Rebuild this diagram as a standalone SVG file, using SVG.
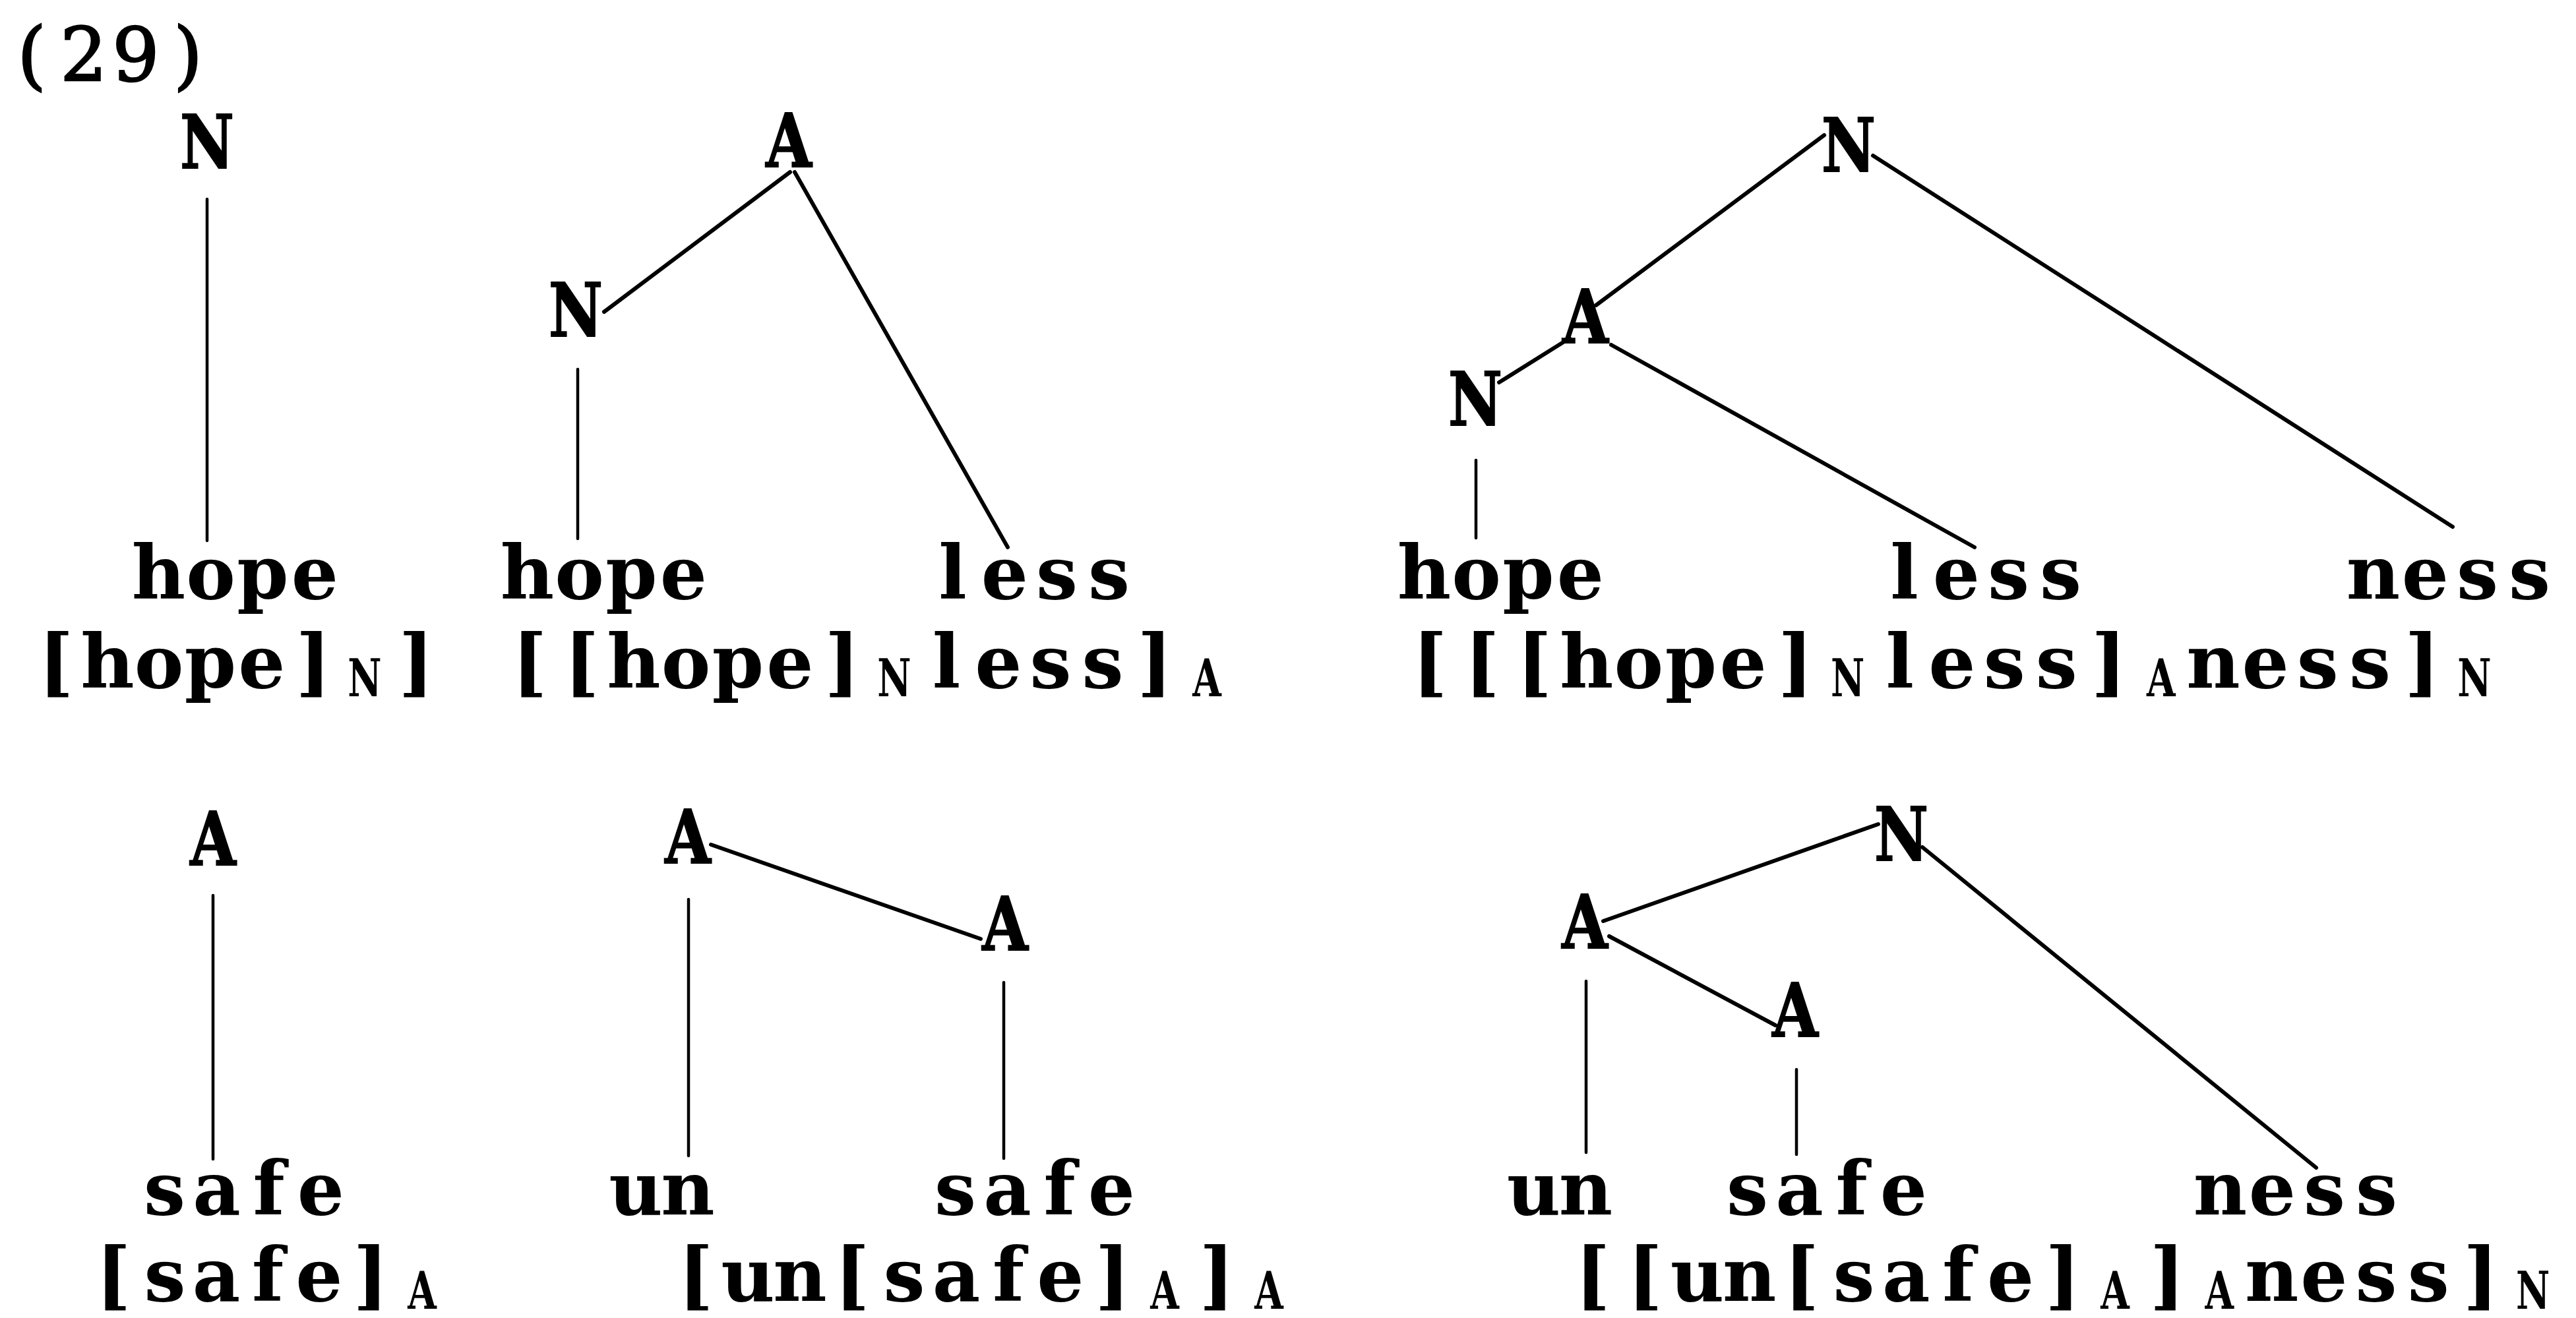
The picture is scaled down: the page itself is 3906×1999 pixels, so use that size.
<svg xmlns="http://www.w3.org/2000/svg" width="3906" height="1999" viewBox="0 0 3906 1999">
  <style>
    .tw { font-family: "DejaVu Serif", "Liberation Serif", serif; font-weight: bold; font-size: 112px; text-anchor: middle; fill: #000; }
    .num { font-family: "DejaVu Serif", "Liberation Serif", serif; font-size: 112px; text-anchor: middle; fill: #000; stroke: #000; stroke-width: 2.5px; }
    .cat { font-family: "DejaVu Serif", "Liberation Serif", serif; font-weight: bold; font-size: 112px; text-anchor: middle; fill: #000; stroke: #000; stroke-width: 2px; }
    .sub { font-family: "DejaVu Serif", "Liberation Serif", serif; font-weight: bold; font-size: 78px; text-anchor: middle; fill: #000; }
    .edge { stroke: #000; stroke-width: 6; stroke-linecap: round; fill: none; }
    .stem { stroke: #000; stroke-width: 4.5; stroke-linecap: round; fill: none; }
  </style>
  <rect width="3906" height="1999" fill="#fff"/>

  <text class="num" x="48 127 206 285" y="122">(29)</text>

  <!-- tree branches -->
  <g id="connectors">
    <!-- hope -->
    <line class="stem" x1="314" y1="302" x2="314" y2="820"/>
    <!-- hopeless -->
    <line class="edge" x1="1198" y1="261" x2="916" y2="473"/>
    <line class="edge" x1="1205" y1="261" x2="1528" y2="830"/>
    <line class="stem" x1="876" y1="560" x2="876" y2="817"/>
    <!-- hopelessness -->
    <line class="edge" x1="2766" y1="205" x2="2420" y2="463"/>
    <line class="edge" x1="2380" y1="513" x2="2273" y2="580"/>
    <line class="edge" x1="2443" y1="523" x2="2994" y2="830"/>
    <line class="edge" x1="2840" y1="236" x2="3719" y2="799"/>
    <line class="stem" x1="2238" y1="698" x2="2238" y2="816"/>
    <!-- safe -->
    <line class="stem" x1="323" y1="1358" x2="323" y2="1758"/>
    <!-- unsafe -->
    <line class="edge" x1="1078" y1="1281" x2="1487" y2="1424"/>
    <line class="stem" x1="1044" y1="1364" x2="1044" y2="1753"/>
    <line class="stem" x1="1522" y1="1490" x2="1522" y2="1757"/>
    <!-- unsafeness -->
    <line class="edge" x1="2431" y1="1397" x2="2848" y2="1250"/>
    <line class="edge" x1="2440" y1="1420" x2="2692" y2="1555"/>
    <line class="edge" x1="2915" y1="1285" x2="3512" y2="1771"/>
    <line class="stem" x1="2405" y1="1488" x2="2405" y2="1748"/>
    <line class="stem" x1="2724" y1="1622" x2="2724" y2="1751"/>
  </g>

  <!-- hope -->
  <g id="t1-N"><text class="cat" transform="translate(314 255) scale(0.8 1)">N</text></g>
  <g id="t1-hope"><text class="tw" x="240.5 319.5 398.5 477.5" y="908">hope</text></g>
  <g id="t1-bracket">
    <text class="tw" x="85 163 241 319 397 475" y="1043">[hope]</text>
    <text class="sub" transform="translate(553 1056) scale(0.72 1)">N</text>
    <text class="tw" x="631" y="1043">]</text>
  </g>

  <!-- hopeless -->
  <g id="t2-A"><text class="cat" transform="translate(1196 253) scale(0.8 1)">A</text></g>
  <g id="t2-N"><text class="cat" transform="translate(873 510) scale(0.8 1)">N</text></g>
  <g id="t2-hope"><text class="tw" x="799.5 878.5 957.5 1036.5" y="908">hope</text></g>
  <g id="t2-less"><text class="tw" x="1444.5 1523.5 1602.5 1681.5" y="908">less</text></g>
  <g id="t2-bracket">
    <text class="tw" x="803 882 961 1040 1119 1198 1277" y="1043">[[hope]</text>
    <text class="sub" transform="translate(1356 1056) scale(0.72 1)">N</text>
    <text class="tw" x="1435 1514 1593 1672 1751" y="1043">less]</text>
    <text class="sub" transform="translate(1830 1056) scale(0.72 1)">A</text>
  </g>

  <!-- hopelessness -->
  <g id="t3-N"><text class="cat" transform="translate(2803 260) scale(0.8 1)">N</text></g>
  <g id="t3-A"><text class="cat" transform="translate(2404 520) scale(0.8 1)">A</text></g>
  <g id="t3-N2"><text class="cat" transform="translate(2237 645) scale(0.8 1)">N</text></g>
  <g id="t3-hope"><text class="tw" x="2159.5 2238.5 2317.5 2396.5" y="908">hope</text></g>
  <g id="t3-less"><text class="tw" x="2887.5 2966.5 3045.5 3124.5" y="908">less</text></g>
  <g id="t3-ness"><text class="tw" x="3598.5 3677.5 3756.5 3835.5" y="908">ness</text></g>
  <g id="t3-bracket">
    <text class="tw" x="2168 2247.2 2326.4 2405.6 2484.8 2564 2643.2 2722.4" y="1043">[[[hope]</text>
    <text class="sub" transform="translate(2801.6 1056) scale(0.72 1)">N</text>
    <text class="tw" x="2880.8 2960 3039.2 3118.4 3197.6" y="1043">less]</text>
    <text class="sub" transform="translate(3276.8 1056) scale(0.72 1)">A</text>
    <text class="tw" x="3356 3435.2 3514.4 3593.6 3672.8" y="1043">ness]</text>
    <text class="sub" transform="translate(3752 1056) scale(0.72 1)">N</text>
  </g>

  <!-- safe -->
  <g id="t4-A"><text class="cat" transform="translate(323 1312) scale(0.8 1)">A</text></g>
  <g id="t4-safe"><text class="tw" x="249.5 328.5 407.5 486.5" y="1842">safe</text></g>
  <g id="t4-bracket">
    <text class="tw" x="172 250 328 406 484 562" y="1973">[safe]</text>
    <text class="sub" transform="translate(640 1985) scale(0.72 1)">A</text>
  </g>

  <!-- unsafe -->
  <g id="t5-A"><text class="cat" transform="translate(1043 1309) scale(0.8 1)">A</text></g>
  <g id="t5-A2"><text class="cat" transform="translate(1524 1441) scale(0.8 1)">A</text></g>
  <g id="t5-un"><text class="tw" x="964 1043" y="1842">un</text></g>
  <g id="t5-safe"><text class="tw" x="1448.5 1527.5 1606.5 1685.5" y="1842">safe</text></g>
  <g id="t5-bracket">
    <text class="tw" x="1055 1134 1213 1292 1371 1450 1529 1608 1687" y="1973">[un[safe]</text>
    <text class="sub" transform="translate(1766 1985) scale(0.72 1)">A</text>
    <text class="tw" x="1845" y="1973">]</text>
    <text class="sub" transform="translate(1924 1985) scale(0.72 1)">A</text>
  </g>

  <!-- unsafeness -->
  <g id="t6-N"><text class="cat" transform="translate(2883 1305) scale(0.8 1)">N</text></g>
  <g id="t6-A"><text class="cat" transform="translate(2403 1438) scale(0.8 1)">A</text></g>
  <g id="t6-A2"><text class="cat" transform="translate(2722 1572) scale(0.8 1)">A</text></g>
  <g id="t6-un"><text class="tw" x="2325.5 2404.5" y="1842">un</text></g>
  <g id="t6-safe"><text class="tw" x="2649.5 2728.5 2807.5 2886.5" y="1842">safe</text></g>
  <g id="t6-ness"><text class="tw" x="3366.5 3445.5 3524.5 3603.5" y="1842">ness</text></g>
  <g id="t6-bracket">
    <text class="tw" x="2415 2494.2 2573.4 2652.6 2731.8 2811 2890.2 2969.4 3048.6 3127.8" y="1973">[[un[safe]</text>
    <text class="sub" transform="translate(3207 1985) scale(0.72 1)">A</text>
    <text class="tw" x="3286.2" y="1973">]</text>
    <text class="sub" transform="translate(3365.4 1985) scale(0.72 1)">A</text>
    <text class="tw" x="3444.6 3523.8 3603 3682.2 3761.4" y="1973">ness]</text>
    <text class="sub" transform="translate(3840.6 1985) scale(0.72 1)">N</text>
  </g>
</svg>
